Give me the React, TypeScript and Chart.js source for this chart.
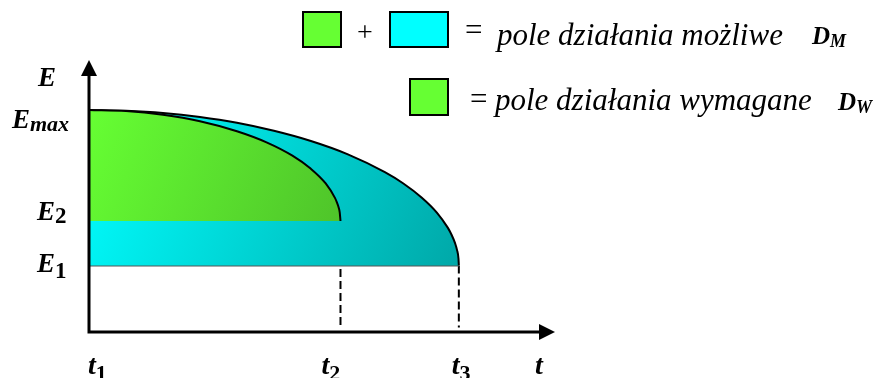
import React, { useEffect, useRef } from "react";
import { Chart, registerables } from "chart.js";

Chart.register(...registerables);

// ---- data ----
// axis values
const E_MAX = 10;
const E2 = 5;
const E1 = 3;
const T1 = 0;
const T2 = 6.8;
const T3 = 10;
const X_AXIS_MAX = 12.6;
const Y_AXIS_MAX = 12.25;

// outer boundary: possible field D_M (from Emax down to E1 at t3)
const possibleT = [0, 1, 2, 3, 4, 5, 6, 7, 8, 8.5, 9, 9.4, 9.7, 9.8, 9.9, 9.95, 9.99, 10];
const possibleE = [10, 9.96, 9.86, 9.68, 9.42, 9.06, 8.6, 8.0, 7.2, 6.69, 6.05, 5.39, 4.7, 4.39, 3.99, 3.7, 3.31, 3.0];

// inner boundary: required field D_W (from Emax down to E2 at t2)
const requiredT = [0, 1, 2, 3, 4, 4.8, 5.5, 6, 6.4, 6.65, 6.7, 6.75, 6.78, 6.8];
const requiredE = [10, 9.95, 9.78, 9.49, 9.04, 8.54, 7.94, 7.35, 6.69, 6.04, 5.85, 5.61, 5.38, 5.0];

// labels
const yLabels = [
  { main: "E", sub: "max", value: E_MAX },
  { main: "E", sub: "2", value: E2 },
  { main: "E", sub: "1", value: E1 },
];
const xLabels = [
  { main: "t", sub: "1", value: T1 },
  { main: "t", sub: "2", value: T2 },
  { main: "t", sub: "3", value: T3 },
];
const legendPossible = "pole działania możliwe";
const legendRequired = "pole działania wymagane";

const SERIF = '"Liberation Serif", "Times New Roman", serif';
const GREEN = "#66ff33";
const CYAN = "#00ffff";

const toPts = (xs: number[], ys: number[]) => xs.map((x, i) => ({ x, y: ys[i] }));

const bi = (s: number) => `italic bold ${s}px ${SERIF}`;
const it = (s: number) => `italic ${s}px ${SERIF}`;
const rm = (s: number) => `${s}px ${SERIF}`;
const bd = (s: number) => `bold ${s}px ${SERIF}`;

function drawSub(
  ctx: CanvasRenderingContext2D,
  main: string,
  sub: string,
  x: number,
  base: number,
  mainFont: string,
  subFont: string,
  subDy: number
) {
  ctx.font = mainFont;
  ctx.fillText(main, x, base);
  const w = ctx.measureText(main).width;
  ctx.font = subFont;
  ctx.fillText(sub, x + w, base + subDy);
}

const overlayPlugin = {
  id: "overlay",
  afterDatasetsDraw(chart: any) {
    const { ctx } = chart;
    const xs = chart.scales.x;
    const ys = chart.scales.y;
    const x0 = xs.getPixelForValue(0);
    const y0 = ys.getPixelForValue(0);
    const xEnd = xs.getPixelForValue(X_AXIS_MAX);
    const yTop = ys.getPixelForValue(Y_AXIS_MAX);
    ctx.save();
    // axes
    ctx.strokeStyle = "#000";
    ctx.lineWidth = 3;
    ctx.beginPath();
    ctx.moveTo(x0, y0 + 1.5);
    ctx.lineTo(x0, yTop + 12);
    ctx.moveTo(x0, y0);
    ctx.lineTo(xEnd - 12, y0);
    ctx.stroke();
    ctx.fillStyle = "#000";
    ctx.beginPath();
    ctx.moveTo(x0, yTop);
    ctx.lineTo(x0 - 8, yTop + 16);
    ctx.lineTo(x0 + 8, yTop + 16);
    ctx.closePath();
    ctx.fill();
    ctx.beginPath();
    ctx.moveTo(xEnd, y0);
    ctx.lineTo(xEnd - 16, y0 - 8);
    ctx.lineTo(xEnd - 16, y0 + 8);
    ctx.closePath();
    ctx.fill();

    // axis labels
    ctx.textBaseline = "alphabetic";
    ctx.textAlign = "left";
    ctx.font = bi(27);
    ctx.fillText("E", 38, 86);
    const yOff = [18, -1, 7];
    const yX = [12, 37, 37];
    const ySubDy = [3, 3, 6];
    yLabels.forEach((l, i) => {
      const py = ys.getPixelForValue(l.value) + yOff[i];
      const subFont = l.sub === "max" ? bi(22) : bd(23);
      drawSub(ctx, l.main, l.sub, yX[i], py, bi(27), subFont, ySubDy[i]);
    });
    const xShift = [-1, -19, -7];
    xLabels.forEach((l, i) => {
      const px = xs.getPixelForValue(l.value) + xShift[i];
      drawSub(ctx, l.main, l.sub, px, 374, bi(28), bd(22), 6);
    });
    ctx.font = bi(28);
    ctx.fillText("t", 535, 374);

    // legend
    ctx.lineWidth = 2;
    ctx.strokeStyle = "#000";
    const box = (x: number, y: number, w: number, h: number, c: string) => {
      ctx.fillStyle = c;
      ctx.fillRect(x, y, w, h);
      ctx.strokeRect(x, y, w, h);
    };
    box(303, 12, 38, 35, GREEN);
    box(390, 12, 58, 35, CYAN);
    box(410, 79, 38, 36, GREEN);
    ctx.fillStyle = "#000";
    ctx.font = rm(28);
    ctx.fillText("+", 357, 41);
    ctx.font = rm(31);
    ctx.fillText("=", 465, 40);
    ctx.fillText("=", 470, 109);
    ctx.font = it(31);
    ctx.fillText(legendPossible, 497, 45);
    ctx.fillText(legendRequired, 495, 110);
    drawSub(ctx, "D", "M", 812, 44, bi(25), bi(18), 3);
    drawSub(ctx, "D", "W", 838, 110, bi(25), bi(18), 3);
    ctx.restore();
  },
};

function gradientFor(chart: any, t0: number, e0: number, t1: number, e1: number, c0: string, c1: string) {
  const { ctx, chartArea, scales } = chart;
  if (!chartArea) return c0;
  const g = ctx.createLinearGradient(
    scales.x.getPixelForValue(t0),
    scales.y.getPixelForValue(e0),
    scales.x.getPixelForValue(t1),
    scales.y.getPixelForValue(e1)
  );
  g.addColorStop(0, c0);
  g.addColorStop(1, c1);
  return g;
}

export default function App() {
  const ref = useRef<HTMLCanvasElement | null>(null);
  useEffect(() => {
    if (!ref.current) return;
    const chart = new Chart(ref.current, {
      type: "line",
      data: {
        datasets: [
          {
            label: "required",
            data: toPts(requiredT, requiredE),
            borderColor: "#000",
            borderWidth: 2,
            pointRadius: 0,
            cubicInterpolationMode: "monotone",
            fill: { value: E2 },
            backgroundColor: (c: any) => gradientFor(c.chart, 0, E_MAX, T2, E2, "#66ff33", "#4fc42a"),
          },
          {
            label: "possible",
            data: toPts(possibleT, possibleE),
            borderColor: "#000",
            borderWidth: 2,
            pointRadius: 0,
            cubicInterpolationMode: "monotone",
            fill: { value: E1 },
            backgroundColor: (c: any) => gradientFor(c.chart, 0, E_MAX, T3, E1, "#00ffff", "#00a8a8"),
          },
          {
            label: "E2",
            data: [{ x: T1, y: E2 }, { x: T2, y: E2 }],
            borderColor: "#000",
            borderWidth: 2,
            pointRadius: 0,
            fill: false,
          },
          {
            label: "E1",
            data: [{ x: T1, y: E1 }, { x: T3, y: E1 }],
            borderColor: "#555",
            borderWidth: 2,
            pointRadius: 0,
            fill: false,
          },
          {
            label: "t2",
            data: [{ x: T2, y: E2 }, { x: T2, y: 0.25 }],
            borderColor: "#000",
            borderWidth: 2,
            borderDash: [8, 4],
            pointRadius: 0,
            fill: false,
          },
          {
            label: "t3",
            data: [{ x: T3, y: E1 }, { x: T3, y: 0.2 }],
            borderColor: "#000",
            borderWidth: 2,
            borderDash: [8, 4],
            pointRadius: 0,
            fill: false,
          },
        ],
      } as any,
      options: {
        animation: false,
        responsive: false,
        events: [],
        layout: { padding: { left: 89, right: 886 - 555, top: 60, bottom: 378 - 332 } },
        scales: {
          x: { type: "linear", min: 0, max: X_AXIS_MAX, display: false },
          y: { type: "linear", min: 0, max: Y_AXIS_MAX, display: false },
        },
        plugins: { legend: { display: false }, tooltip: { enabled: false } },
      } as any,
      plugins: [overlayPlugin],
    });
    const fonts = [it(31), bi(27), rm(31), bd(22)];
    if ((document as any).fonts && (document as any).fonts.load) {
      Promise.all(fonts.map((f) => (document as any).fonts.load(f, "Edpolż")))
        .then(() => {
          try {
            chart.draw();
          } catch (e) {}
        })
        .catch(() => {});
    }
    return () => chart.destroy();
  }, []);
  return (
    <div style={{ position: "fixed", left: 0, top: 0, width: 886, height: 378, background: "#fff" }}>
      <canvas ref={ref} width={886} height={378} />
    </div>
  );
}
